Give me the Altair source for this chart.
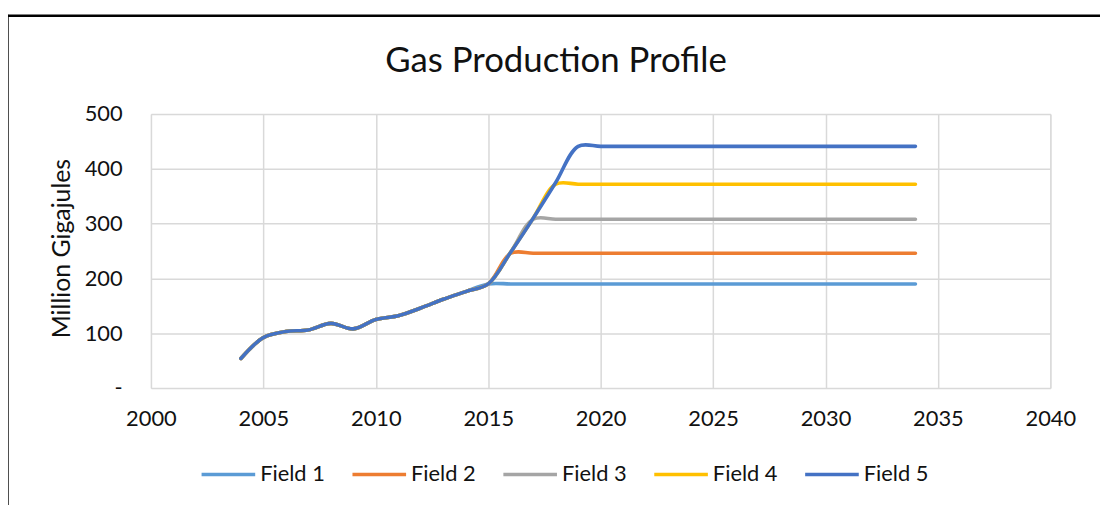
import altair as alt
import pandas as pd

years = list(range(2004, 2035))
# shared early profile 2004-2014
base = [54, 92, 103, 106, 118, 108, 125, 132, 146, 162, 176]
field1 = base + [190] + [190] * 19
field2 = base + [190] + [246] * 19
field3 = base + [190, 248] + [308] * 18
field4 = base + [190, 248, 310] + [372] * 17
field5 = base + [190, 248, 310, 375] + [441] * 16

fields = ["Field 1", "Field 2", "Field 3", "Field 4", "Field 5"]
series = [field1, field2, field3, field4, field5]
colors = ["#5B9BD5", "#ED7D31", "#A5A5A5", "#FFC000", "#4472C4"]
chart_title = "Gas Production Profile"

rows = []
for name, vals in zip(fields, series):
    for yr, v in zip(years, vals):
        rows.append({"Year": yr, "Value": v, "Field": name, "order": fields.index(name)})
df = pd.DataFrame(rows)

FONT = "Lato"
TXT = "#111111"
W, H = 906, 276

lines = alt.Chart(df).mark_line(
    interpolate="catmull-rom", strokeWidth=3.6, strokeCap="round", strokeJoin="round"
).encode(
    x=alt.X(
        "Year:Q",
        scale=alt.Scale(domain=[2000, 2040], nice=False, zero=False),
        axis=alt.Axis(
            values=list(range(2000, 2041, 5)), format="d", title=None,
            domain=False, ticks=False, tickSize=0, labelPadding=21,
            labelFlush=False,
            labelFontSize=22, labelFont=FONT, labelColor=TXT,
            grid=True, gridColor="#d9d9d9", gridWidth=1.5,
        ),
    ),
    y=alt.Y(
        "Value:Q",
        scale=alt.Scale(domain=[0, 500], nice=False),
        axis=alt.Axis(
            values=[0, 100, 200, 300, 400, 500],
            labelExpr="datum.value == 0 ? '-\u00a0\u00a0\u00a0\u00a0' : datum.label",
            title="Million Gigajules", titleFont=FONT, titleFontSize=25,
            titleFontWeight="normal", titleColor=TXT, titleX=-90, titleY=135,
            titleAngle=-90, titleAlign="center", titleBaseline="middle",
            domain=False, ticks=False, tickSize=0, labelPadding=29,
            labelFlush=False,
            labelFontSize=22, labelFont=FONT, labelColor=TXT,
            grid=True, gridColor="#d9d9d9", gridWidth=1.5,
        ),
    ),
    color=alt.Color(
        "Field:N",
        scale=alt.Scale(domain=fields, range=colors),
        legend=alt.Legend(
            title=None, orient="none", direction="horizontal",
            legendX=49, legendY=334, symbolType="stroke", symbolSize=2916,
            symbolStrokeWidth=3.5, labelFont=FONT, labelFontSize=22,
            labelColor=TXT, labelOffset=3, columnPadding=20,
        ),
    ),
    order=alt.Order("order:Q"),
)

title_df = pd.DataFrame({"t": [chart_title]})
title = alt.Chart(title_df).mark_text(
    font=FONT, fontSize=35, color=TXT, align="center", baseline="middle"
).encode(text="t:N", x=alt.value(408), y=alt.value(-53))

border = pd.DataFrame({"k": [0]})
top_line = alt.Chart(border).mark_rule(color="black", strokeWidth=2.4).encode(
    x=alt.value(-145), x2=alt.value(960), y=alt.value(-99)
)
left_line = alt.Chart(border).mark_rule(color="black", strokeWidth=2.4).encode(
    x=alt.value(-144.5), y=alt.value(-100), y2=alt.value(400)
)

chart = alt.layer(lines, title, top_line, left_line).properties(
    width=W, height=H,
    autosize=alt.AutoSizeParams(type="none"),
    padding={"left": 144, "top": 105, "right": 50, "bottom": 116},
).configure_view(stroke=None).configure(background="white")

chart.save("out.html", embed_options={"renderer": "svg", "actions": False})
